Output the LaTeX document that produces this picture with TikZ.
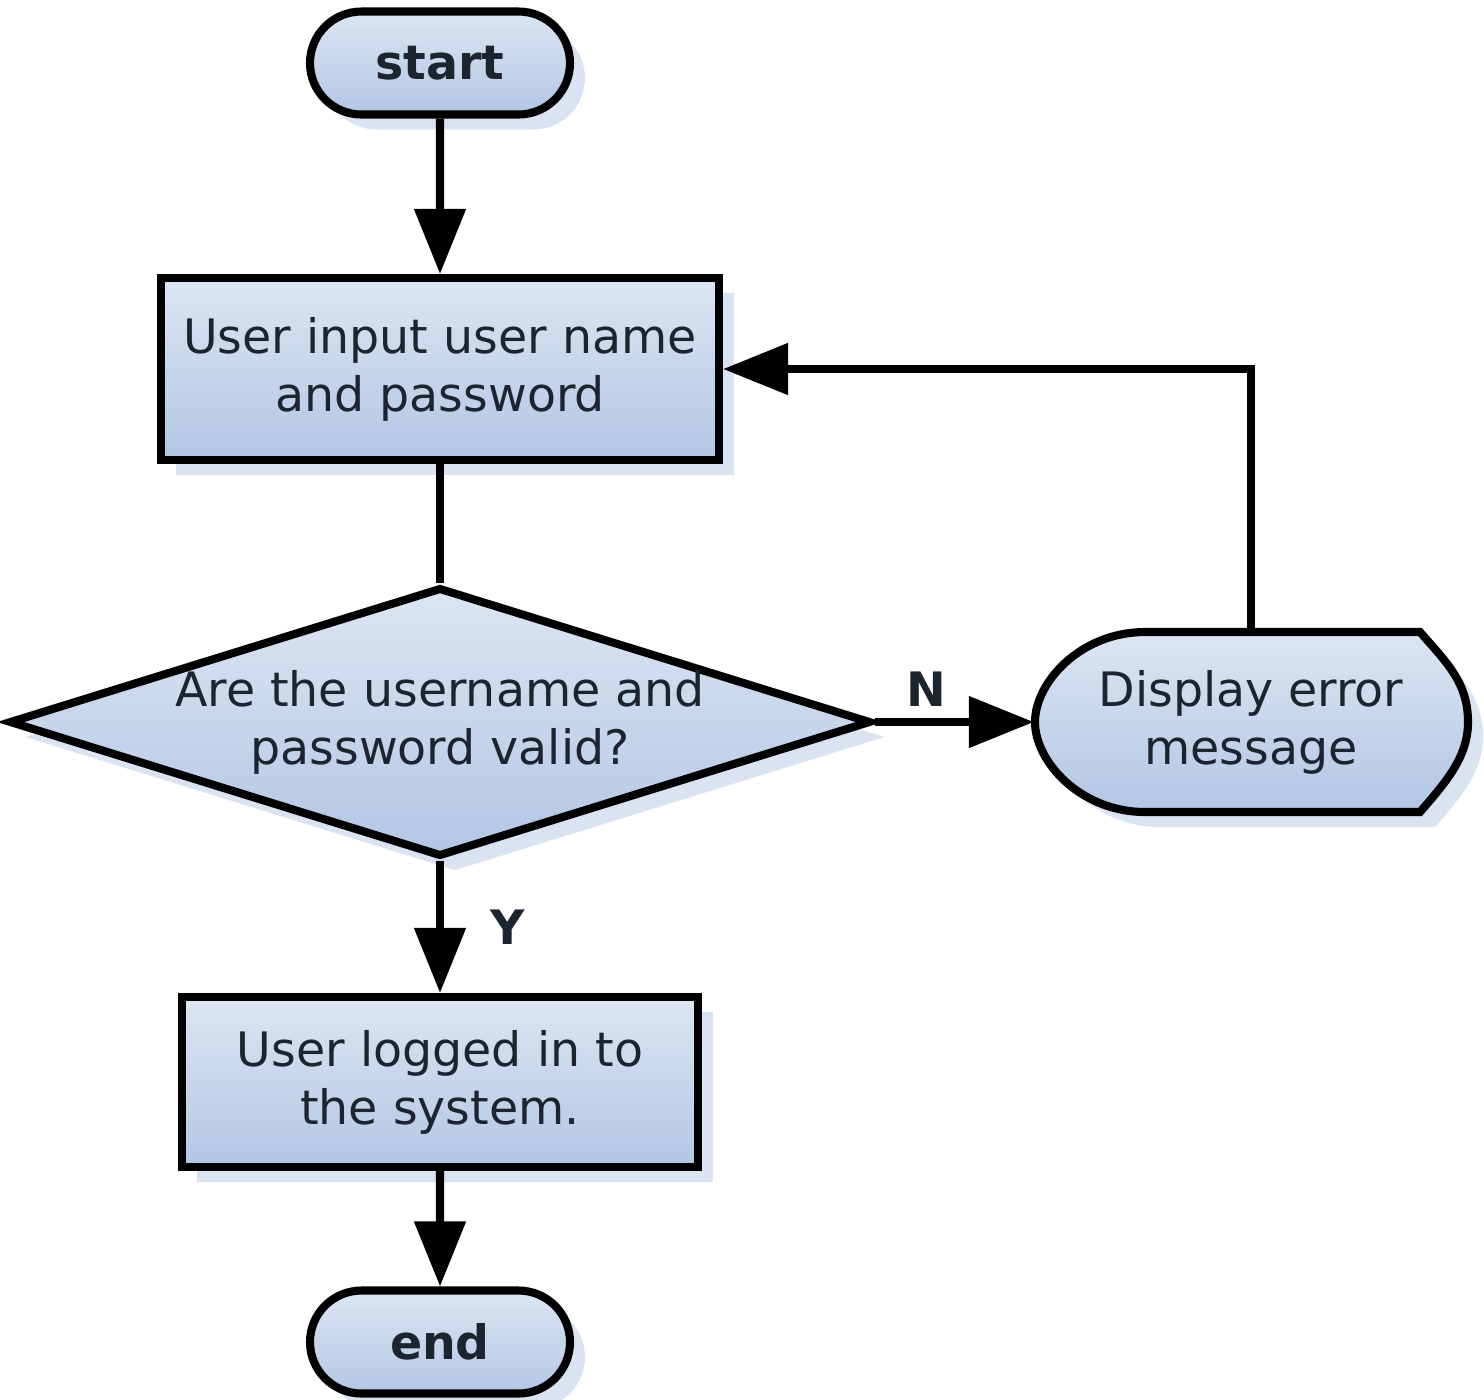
\documentclass[tikz,border=0pt]{standalone}
\usepackage{fontspec}
\setmainfont{DejaVu Sans}
\usepackage{tikz}
\usetikzlibrary{shapes.geometric,shapes.misc,arrows.meta,shadows}
\definecolor{boxtop}{HTML}{DCE6F4}
\definecolor{boxbot}{HTML}{B2C6E3}
\definecolor{shadowblue}{HTML}{D9E3F1}
\definecolor{inkdark}{HTML}{1C2430}
\tikzstyle{flow}=[line width=2.3pt,draw=black,top color=boxtop,bottom color=boxbot,
                  text=inkdark,align=center,inner sep=0pt,
                  font=\fontsize{13.5}{16.5}\selectfont,
                  drop shadow={shadow xshift=0.15cm,shadow yshift=-0.15cm,
                               fill=shadowblue,opacity=1}]
\tikzstyle{termnode}=[flow,rounded rectangle,minimum width=2.6cm,minimum height=1.03cm,
                      font=\fontsize{13.5}{16.5}\selectfont\bfseries]
\tikzstyle{procnode}=[flow,rectangle]
\tikzstyle{decnode}=[flow,diamond,aspect=3.2,minimum width=8.4cm,minimum height=2.62cm]
\tikzstyle{arr}=[line width=2.3pt,-{Triangle[length=0.65cm,width=0.5cm]}]
\tikzstyle{tag}=[font=\fontsize{13.5}{16}\selectfont\bfseries,text=inkdark]

\begin{document}
\begin{tikzpicture}
    \useasboundingbox (0,0) rectangle (14.84,-13.99);
    \node (start) at (4.40, -0.63) [termnode]{start};
    \node (input) at (4.40, -3.69) [procnode,minimum width=5.58cm,minimum height=1.82cm]
          {User input user name\\and password};
    \node (valid) at (4.40, -7.22) [decnode]{Are the username and\\password valid?};
    % display shape, drawn by hand round the node
    \begin{scope}[shift={(12.51,-7.22)}]
      \fill[shadowblue] (-0.91,0.75) -- (1.84,0.75)
          .. controls (2.10,0.45) and (2.32,0.25) .. (2.32,-0.15)
          .. controls (2.32,-0.50) and (2.10,-0.75) .. (1.84,-1.05)
          -- (-0.91,-1.05) .. controls (-1.55,-1.05) and (-2.01,-0.55) .. (-2.01,-0.15)
          .. controls (-2.01,0.25) and (-1.55,0.75) .. cycle;
      \draw[line width=2.3pt,top color=boxtop,bottom color=boxbot]
          (-1.06,0.90) -- (1.69,0.90)
          .. controls (1.95,0.60) and (2.17,0.40) .. (2.17,0)
          .. controls (2.17,-0.35) and (1.95,-0.60) .. (1.69,-0.90)
          -- (-1.06,-0.90) .. controls (-1.70,-0.90) and (-2.16,-0.40) .. (-2.16,0)
          .. controls (-2.16,0.40) and (-1.70,0.90) .. cycle;
    \end{scope}
    \node (disp) at (12.51, -7.22) [align=center,inner sep=0pt,text=inkdark,
          minimum width=4.33cm,minimum height=1.8cm,
          font=\fontsize{13.5}{16.5}\selectfont]{Display error\\message};
    \node (logged) at (4.40, -10.82) [procnode,minimum width=5.16cm,minimum height=1.70cm]
          {User logged in to\\the system.};
    \node (end) at (4.40, -13.42) [termnode]{end};
    \draw[arr] (start) -- (input);
    \draw[line width=2.3pt] (input) -- (valid);
    \draw[arr] (valid.east) -- node[tag,pos=0.32,above]{N} (disp.west);
    \draw[arr] (disp.north) |- (input.east);
    \draw[arr] (valid.south) -- node[tag,right=0.35cm]{Y} (logged.north);
    \draw[arr] (logged) -- (end);
  \end{tikzpicture}
\end{document}
